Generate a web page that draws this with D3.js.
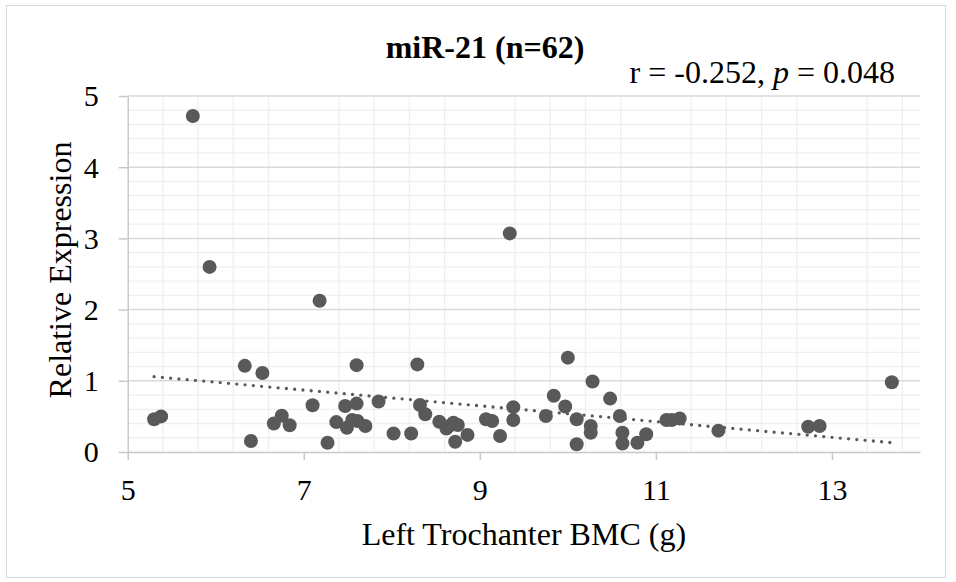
<!DOCTYPE html>
<html>
<head>
<meta charset="utf-8">
<script src="https://cdn.jsdelivr.net/npm/d3@7"></script>
<style>
	body { margin: 0; background: white; }
	svg text { font-family: 'Liberation Serif', 'Times New Roman', serif; fill: black; }
</style>
</head>
<body>
<svg id="chart" width="956" height="582"></svg>
<script>
// Left trochanter BMC (g)
var bmc = [5.30, 5.38, 5.74, 5.93, 6.33, 6.53, 6.40, 6.66, 6.75, 6.84,
	7.10, 7.18, 7.27, 7.37, 7.47, 7.49, 7.55, 7.60, 7.60, 7.61,
	7.70, 7.85, 8.02, 8.22, 8.29, 8.32, 8.38, 8.54, 8.62, 8.66,
	8.70, 8.72, 8.75, 8.86, 9.07, 9.14, 9.23, 9.34, 9.38, 9.38,
	9.75, 9.84, 9.97, 10.00, 10.10, 10.10, 10.26, 10.26, 10.28, 10.48,
	10.59, 10.62, 10.62, 10.79, 10.89, 11.12, 11.18, 11.27, 11.71, 12.73,
	12.86, 13.68];
// miR-21 relative expression
var expr = [0.46, 0.50, 4.72, 2.60, 1.21, 1.11, 0.155, 0.40, 0.51, 0.375,
	0.656, 2.125, 0.13, 0.42, 0.646, 0.34, 0.45, 1.22, 0.68, 0.435,
	0.365, 0.71, 0.26, 0.26, 1.23, 0.66, 0.53, 0.425, 0.33, 0.37,
	0.41, 0.145, 0.38, 0.24, 0.46, 0.435, 0.225, 3.07, 0.63, 0.45,
	0.506, 0.79, 0.64, 1.325, 0.46, 0.108, 0.365, 0.27, 0.99, 0.75,
	0.506, 0.27, 0.12, 0.13, 0.25, 0.45, 0.45, 0.47, 0.30, 0.355,
	0.365, 0.98];

// linear trendline (slope, intercept) as shown
var trendSlope = -0.1106;
var trendIntercept = 1.644;

var xTicks = [5, 7, 9, 11, 13];
var yTicks = [0, 1, 2, 3, 4, 5];

var titleText = 'miR-21 (n=62)';
var xTitle = 'Left Trochanter BMC (g)';
var yTitle = 'Relative Expression';

var svg = d3.select('#chart');
var ptColor = '#595959';
var serif = "'Liberation Serif', 'Times New Roman', serif";

var plot = {left: 127.7, right: 920, top: 96, bottom: 452};

var x = d3.scaleLinear().domain([5, 14]).range([plot.left, plot.right]);
var y = d3.scaleLinear().domain([0, 5]).range([plot.bottom, plot.top]);

// chart border
svg.append('rect')
	.attr('x', 6.5).attr('y', 5.5)
	.attr('width', 939).attr('height', 572)
	.attr('fill', 'white')
	.attr('stroke', '#d9d9d9')
	.attr('stroke-width', 1);

// minor gridlines (skip where a major tick sits)
var xMinor = d3.range(5.4, 14, 0.4).filter(v => Math.abs(((v - 5) / 2) - Math.round((v - 5) / 2)) > 0.01);
var yMinor = d3.range(0.2, 5, 0.2).filter(v => Math.abs(v - Math.round(v)) > 0.01);

var grid = svg.append('g');
grid.selectAll('line.vminor')
	.data(xMinor)
	.enter()
	.append('line')
	.attr('x1', d => x(d)).attr('x2', d => x(d))
	.attr('y1', plot.top).attr('y2', plot.bottom)
	.attr('stroke', '#efefef')
	.attr('stroke-width', 1.3);

grid.selectAll('line.hminor')
	.data(yMinor)
	.enter()
	.append('line')
	.attr('x1', plot.left).attr('x2', plot.right)
	.attr('y1', d => y(d)).attr('y2', d => y(d))
	.attr('stroke', '#efefef')
	.attr('stroke-width', 1.3);

grid.selectAll('line.hmajor')
	.data(yTicks.slice(1))
	.enter()
	.append('line')
	.attr('x1', plot.left).attr('x2', plot.right)
	.attr('y1', d => y(d)).attr('y2', d => y(d))
	.attr('stroke', '#d9d9d9')
	.attr('stroke-width', 1.5);

// axes
var xAxis = d3.axisBottom(x).tickValues(xTicks).tickFormat(d3.format('d'))
	.tickSizeInner(8).tickSizeOuter(0).tickPadding(20);
var yAxis = d3.axisLeft(y).tickValues(yTicks).tickFormat(d3.format('d'))
	.tickSizeInner(9).tickSizeOuter(0).tickPadding(20);

var gx = svg.append('g')
	.attr('transform', 'translate(0,' + plot.bottom + ')')
	.call(xAxis);
var gy = svg.append('g')
	.attr('transform', 'translate(' + plot.left + ',0)')
	.call(yAxis);

[gx, gy].forEach(function(g) {
	g.select('.domain').attr('stroke', '#c8c8c8').attr('stroke-width', 1.5);
	g.selectAll('.tick line').attr('stroke', '#c8c8c8').attr('stroke-width', 1.5);
	g.selectAll('.tick text')
		.attr('font-family', serif)
		.attr('font-size', 30)
		.attr('fill', 'black');
});
gy.selectAll('.tick text').attr('dy', '0.33em');
gx.selectAll('.tick text').attr('dy', '0.66em');

// trendline
var xMin = d3.min(bmc), xMax = d3.max(bmc);
svg.append('line')
	.attr('x1', x(xMin)).attr('y1', y(trendIntercept + trendSlope * xMin))
	.attr('x2', x(xMax)).attr('y2', y(trendIntercept + trendSlope * xMax))
	.attr('stroke', ptColor)
	.attr('stroke-width', 3.3)
	.attr('stroke-linecap', 'round')
	.attr('stroke-dasharray', '0 8.3');

// points
var pts = bmc.map((v, i) => ({x: v, y: expr[i]}));
svg.append('g')
	.selectAll('circle')
	.data(pts)
	.enter()
	.append('circle')
	.attr('cx', d => x(d.x))
	.attr('cy', d => y(d.y))
	.attr('r', 7)
	.attr('fill', ptColor);

// titles
svg.append('text')
	.attr('x', 485).attr('y', 58)
	.attr('text-anchor', 'middle')
	.attr('font-size', 32)
	.attr('font-weight', 'bold')
	.text(titleText);

var ann = svg.append('text')
	.attr('x', 895).attr('y', 83)
	.attr('text-anchor', 'end')
	.attr('font-size', 32);
ann.append('tspan').text('r = -0.252, ');
ann.append('tspan').attr('font-style', 'italic').text('p');
ann.append('tspan').text(' = 0.048');

svg.append('text')
	.attr('x', (plot.left + plot.right) / 2).attr('y', 545)
	.attr('text-anchor', 'middle')
	.attr('font-size', 32)
	.text(xTitle);

svg.append('text')
	.attr('transform', 'translate(71,270) rotate(-90)')
	.attr('text-anchor', 'middle')
	.attr('font-size', 32)
	.text(yTitle);
</script>
</body>
</html>
